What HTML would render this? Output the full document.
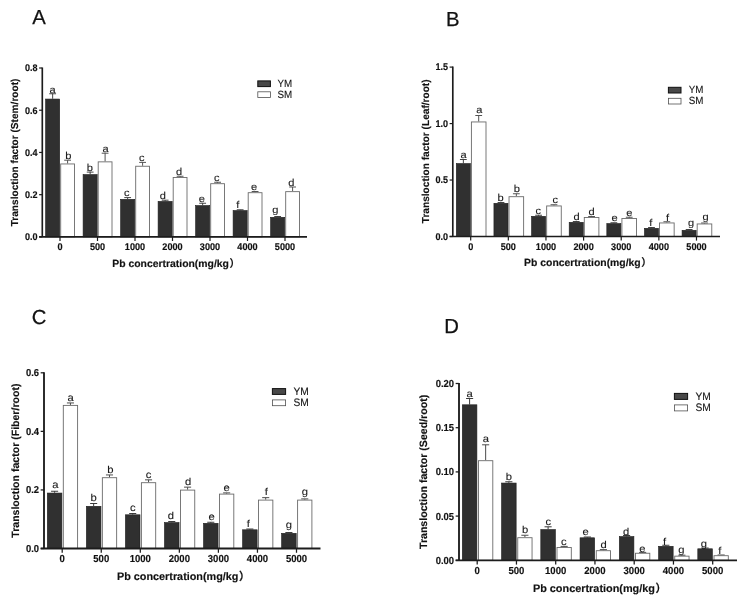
<!DOCTYPE html>
<html lang="en">
<head>
<meta charset="utf-8">
<title>Translocation factor</title>
<style>
html,body{margin:0;padding:0;background:#fff;}
body{width:745px;height:600px;overflow:hidden;}
svg{display:block;text-rendering:geometricPrecision;font-family:'Liberation Sans', 'Noto Sans CJK SC', sans-serif;}
</style>
</head>
<body>
<svg width="745" height="600" viewBox="0 0 745 600">
<rect width="745" height="600" fill="#fff"/>
<g id="chartA">
<text x="32.3" y="24.3" font-size="20.3" fill="#111" stroke="#111" stroke-width="0.25">A</text>
<path d="M52.65 98.75V93.75M49.25 93.75H56.05" stroke="#2f2f2f" stroke-width="0.9" fill="none"/>
<rect x="45.6" y="99.05" width="14.1" height="137.85" fill="#303030" stroke="#1e1e1e" stroke-width="0.6"/>
<text transform="translate(52.55 92.65) scale(1.12 1)" font-size="9.9" text-anchor="middle" fill="#1a1a1a" stroke="#1a1a1a" stroke-width="0.1">a</text>
<path d="M67.6 163.5V160.2M64.2 160.2H71" stroke="#4a4a4a" stroke-width="0.95" fill="none"/>
<rect x="60.7" y="163.95" width="13.8" height="72.95" fill="#fff" stroke="#6a6a6a" stroke-width="0.9"/>
<text transform="translate(68.3 159.1) scale(1.12 1)" font-size="9.9" text-anchor="middle" fill="#1a1a1a" stroke="#1a1a1a" stroke-width="0.1">b</text>
<path d="M60 236.9v4.1" stroke="#1c1c1c" stroke-width="1.2"/>
<text transform="translate(60 250.3) scale(1 1.06)" font-size="9.15" font-weight="bold" text-anchor="middle" fill="#111" stroke="#111" stroke-width="0.15">0</text>
<path d="M90.15 174.25V172.1M86.75 172.1H93.55" stroke="#2f2f2f" stroke-width="0.9" fill="none"/>
<rect x="83.1" y="174.55" width="14.1" height="62.35" fill="#303030" stroke="#1e1e1e" stroke-width="0.6"/>
<text transform="translate(89.95 170.9) scale(1.12 1)" font-size="9.9" text-anchor="middle" fill="#1a1a1a" stroke="#1a1a1a" stroke-width="0.1">b</text>
<path d="M105.1 161.4V153.2M101.7 153.2H108.5" stroke="#4a4a4a" stroke-width="0.95" fill="none"/>
<rect x="98.2" y="161.85" width="13.8" height="75.05" fill="#fff" stroke="#6a6a6a" stroke-width="0.9"/>
<text transform="translate(105.6 152.1) scale(1.12 1)" font-size="9.9" text-anchor="middle" fill="#1a1a1a" stroke="#1a1a1a" stroke-width="0.1">a</text>
<path d="M97.5 236.9v4.1" stroke="#1c1c1c" stroke-width="1.2"/>
<text transform="translate(97.5 250.3) scale(1 1.06)" font-size="9.15" font-weight="bold" text-anchor="middle" fill="#111" stroke="#111" stroke-width="0.15">500</text>
<path d="M127.65 199V197.6M124.25 197.6H131.05" stroke="#2f2f2f" stroke-width="0.9" fill="none"/>
<rect x="120.6" y="199.3" width="14.1" height="37.6" fill="#303030" stroke="#1e1e1e" stroke-width="0.6"/>
<text transform="translate(126.75 196.2) scale(1.12 1)" font-size="9.9" text-anchor="middle" fill="#1a1a1a" stroke="#1a1a1a" stroke-width="0.1">c</text>
<path d="M142.6 165.8V162.4M139.2 162.4H146" stroke="#4a4a4a" stroke-width="0.95" fill="none"/>
<rect x="135.7" y="166.25" width="13.8" height="70.65" fill="#fff" stroke="#6a6a6a" stroke-width="0.9"/>
<text transform="translate(141.7 161) scale(1.12 1)" font-size="9.9" text-anchor="middle" fill="#1a1a1a" stroke="#1a1a1a" stroke-width="0.1">c</text>
<path d="M135 236.9v4.1" stroke="#1c1c1c" stroke-width="1.2"/>
<text transform="translate(135 250.3) scale(1 1.06)" font-size="9.15" font-weight="bold" text-anchor="middle" fill="#111" stroke="#111" stroke-width="0.15">1000</text>
<path d="M165.15 201.1V200.2M161.75 200.2H168.55" stroke="#2f2f2f" stroke-width="0.9" fill="none"/>
<rect x="158.1" y="201.4" width="14.1" height="35.5" fill="#303030" stroke="#1e1e1e" stroke-width="0.6"/>
<text transform="translate(162.75 198.8) scale(1.12 1)" font-size="9.9" text-anchor="middle" fill="#1a1a1a" stroke="#1a1a1a" stroke-width="0.1">d</text>
<path d="M180.1 177V176.25M176.7 176.25H183.5" stroke="#4a4a4a" stroke-width="0.95" fill="none"/>
<rect x="173.2" y="177.45" width="13.8" height="59.45" fill="#fff" stroke="#6a6a6a" stroke-width="0.9"/>
<text transform="translate(179.2 174.85) scale(1.12 1)" font-size="9.9" text-anchor="middle" fill="#1a1a1a" stroke="#1a1a1a" stroke-width="0.1">d</text>
<path d="M172.5 236.9v4.1" stroke="#1c1c1c" stroke-width="1.2"/>
<text transform="translate(172.5 250.3) scale(1 1.06)" font-size="9.15" font-weight="bold" text-anchor="middle" fill="#111" stroke="#111" stroke-width="0.15">2000</text>
<path d="M202.65 205.25V203.25M199.25 203.25H206.05" stroke="#2f2f2f" stroke-width="0.9" fill="none"/>
<rect x="195.6" y="205.55" width="14.1" height="31.35" fill="#303030" stroke="#1e1e1e" stroke-width="0.6"/>
<text transform="translate(201.75 201.85) scale(1.12 1)" font-size="9.9" text-anchor="middle" fill="#1a1a1a" stroke="#1a1a1a" stroke-width="0.1">e</text>
<path d="M217.6 183.25V182.25M214.2 182.25H221" stroke="#4a4a4a" stroke-width="0.95" fill="none"/>
<rect x="210.7" y="183.7" width="13.8" height="53.2" fill="#fff" stroke="#6a6a6a" stroke-width="0.9"/>
<text transform="translate(216.7 180.85) scale(1.12 1)" font-size="9.9" text-anchor="middle" fill="#1a1a1a" stroke="#1a1a1a" stroke-width="0.1">c</text>
<path d="M210 236.9v4.1" stroke="#1c1c1c" stroke-width="1.2"/>
<text transform="translate(210 250.3) scale(1 1.06)" font-size="9.15" font-weight="bold" text-anchor="middle" fill="#111" stroke="#111" stroke-width="0.15">3000</text>
<path d="M240.15 210.25V209.75M236.75 209.75H243.55" stroke="#2f2f2f" stroke-width="0.9" fill="none"/>
<rect x="233.1" y="210.55" width="14.1" height="26.35" fill="#303030" stroke="#1e1e1e" stroke-width="0.6"/>
<text transform="translate(237.75 208.35) scale(1.12 1)" font-size="9.9" text-anchor="middle" fill="#1a1a1a" stroke="#1a1a1a" stroke-width="0.1">f</text>
<path d="M255.1 192.25V191.5M251.7 191.5H258.5" stroke="#4a4a4a" stroke-width="0.95" fill="none"/>
<rect x="248.2" y="192.7" width="13.8" height="44.2" fill="#fff" stroke="#6a6a6a" stroke-width="0.9"/>
<text transform="translate(254.2 190.1) scale(1.12 1)" font-size="9.9" text-anchor="middle" fill="#1a1a1a" stroke="#1a1a1a" stroke-width="0.1">e</text>
<path d="M247.5 236.9v4.1" stroke="#1c1c1c" stroke-width="1.2"/>
<text transform="translate(247.5 250.3) scale(1 1.06)" font-size="9.15" font-weight="bold" text-anchor="middle" fill="#111" stroke="#111" stroke-width="0.15">4000</text>
<path d="M277.65 217V216.5M274.25 216.5H281.05" stroke="#2f2f2f" stroke-width="0.9" fill="none"/>
<rect x="270.6" y="217.3" width="14.1" height="19.6" fill="#303030" stroke="#1e1e1e" stroke-width="0.6"/>
<text transform="translate(275.25 213.02) scale(1.12 1)" font-size="9.9" text-anchor="middle" fill="#1a1a1a" stroke="#1a1a1a" stroke-width="0.1">g</text>
<path d="M292.6 191.2V187M289.2 187H296" stroke="#4a4a4a" stroke-width="0.95" fill="none"/>
<rect x="285.7" y="191.65" width="13.8" height="45.25" fill="#fff" stroke="#6a6a6a" stroke-width="0.9"/>
<text transform="translate(291.4 185.6) scale(1.12 1)" font-size="9.9" text-anchor="middle" fill="#1a1a1a" stroke="#1a1a1a" stroke-width="0.1">d</text>
<path d="M285 236.9v4.1" stroke="#1c1c1c" stroke-width="1.2"/>
<text transform="translate(285 250.3) scale(1 1.06)" font-size="9.15" font-weight="bold" text-anchor="middle" fill="#111" stroke="#111" stroke-width="0.15">5000</text>
<path d="M42.3 67.4V237.5M39.1 236.9H307" stroke="#1c1c1c" stroke-width="1.65" fill="none"/>
<path d="M39.1 236.9H42.3" stroke="#1c1c1c" stroke-width="1.2"/>
<text transform="translate(37.6 240.2) scale(1 1.07)" font-size="9.05" font-weight="bold" text-anchor="end" fill="#111" stroke="#111" stroke-width="0.15">0.0</text>
<path d="M39.1 194.68H42.3" stroke="#1c1c1c" stroke-width="1.2"/>
<text transform="translate(37.6 197.98) scale(1 1.07)" font-size="9.05" font-weight="bold" text-anchor="end" fill="#111" stroke="#111" stroke-width="0.15">0.2</text>
<path d="M39.1 152.45H42.3" stroke="#1c1c1c" stroke-width="1.2"/>
<text transform="translate(37.6 155.75) scale(1 1.07)" font-size="9.05" font-weight="bold" text-anchor="end" fill="#111" stroke="#111" stroke-width="0.15">0.4</text>
<path d="M39.1 110.22H42.3" stroke="#1c1c1c" stroke-width="1.2"/>
<text transform="translate(37.6 113.52) scale(1 1.07)" font-size="9.05" font-weight="bold" text-anchor="end" fill="#111" stroke="#111" stroke-width="0.15">0.6</text>
<path d="M39.1 68H42.3" stroke="#1c1c1c" stroke-width="1.2"/>
<text transform="translate(37.6 71.3) scale(1 1.07)" font-size="9.05" font-weight="bold" text-anchor="end" fill="#111" stroke="#111" stroke-width="0.15">0.8</text>
<text transform="translate(18.3 152.45) rotate(-90)" font-size="10.12" font-weight="bold" text-anchor="middle" fill="#111" stroke="#111" stroke-width="0.15">Transloction factor (Stem/root)</text>
<text x="112.3" y="266.8" font-size="10.4" font-weight="bold" fill="#111" stroke="#111" stroke-width="0.15">Pb concertration(mg/kg<tspan dx="0.5">）</tspan></text>
<rect x="257.8" y="80.9" width="12.6" height="5.7" fill="#484848" stroke="#101010" stroke-width="1.0"/>
<rect x="257.8" y="91.8" width="12.6" height="5.7" fill="#fff" stroke="#505050" stroke-width="0.8"/>
<text transform="translate(277.5 87) scale(1 1.07)" font-size="9.8" text-rendering="geometricPrecision" fill="#161616" stroke="#161616" stroke-width="0.12">YM</text>
<text transform="translate(277.5 97.5) scale(1 1.07)" font-size="9.8" text-rendering="geometricPrecision" fill="#161616" stroke="#161616" stroke-width="0.12">SM</text>
</g>
<g id="chartB">
<text x="446" y="25.8" font-size="20.3" fill="#111" stroke="#111" stroke-width="0.25">B</text>
<path d="M463.35 163.25V159.5M459.95 159.5H466.75" stroke="#2f2f2f" stroke-width="0.9" fill="none"/>
<rect x="456.3" y="163.55" width="14.1" height="72.95" fill="#303030" stroke="#1e1e1e" stroke-width="0.6"/>
<text transform="translate(463.65 158.1) scale(1.12 1)" font-size="9.9" text-anchor="middle" fill="#1a1a1a" stroke="#1a1a1a" stroke-width="0.1">a</text>
<path d="M478.7 121.5V115.5M475.3 115.5H482.1" stroke="#4a4a4a" stroke-width="0.95" fill="none"/>
<rect x="471.4" y="121.95" width="14.6" height="114.55" fill="#fff" stroke="#6a6a6a" stroke-width="0.9"/>
<text transform="translate(479.4 113.1) scale(1.12 1)" font-size="9.9" text-anchor="middle" fill="#1a1a1a" stroke="#1a1a1a" stroke-width="0.1">a</text>
<path d="M470.7 236.5v4.1" stroke="#1c1c1c" stroke-width="1.2"/>
<text transform="translate(470.7 249.9) scale(1 1.06)" font-size="9.15" font-weight="bold" text-anchor="middle" fill="#111" stroke="#111" stroke-width="0.15">0</text>
<path d="M500.98 203V202.5M497.58 202.5H504.38" stroke="#2f2f2f" stroke-width="0.9" fill="none"/>
<rect x="493.93" y="203.3" width="14.1" height="33.2" fill="#303030" stroke="#1e1e1e" stroke-width="0.6"/>
<text transform="translate(500.58 201.1) scale(1.12 1)" font-size="9.9" text-anchor="middle" fill="#1a1a1a" stroke="#1a1a1a" stroke-width="0.1">b</text>
<path d="M516.33 196.25V193.75M512.93 193.75H519.73" stroke="#4a4a4a" stroke-width="0.95" fill="none"/>
<rect x="509.03" y="196.7" width="14.6" height="39.8" fill="#fff" stroke="#6a6a6a" stroke-width="0.9"/>
<text transform="translate(516.93 192.35) scale(1.12 1)" font-size="9.9" text-anchor="middle" fill="#1a1a1a" stroke="#1a1a1a" stroke-width="0.1">b</text>
<path d="M508.33 236.5v4.1" stroke="#1c1c1c" stroke-width="1.2"/>
<text transform="translate(508.33 249.9) scale(1 1.06)" font-size="9.15" font-weight="bold" text-anchor="middle" fill="#111" stroke="#111" stroke-width="0.15">500</text>
<path d="M538.61 216V215.25M535.21 215.25H542.01" stroke="#2f2f2f" stroke-width="0.9" fill="none"/>
<rect x="531.56" y="216.3" width="14.1" height="20.2" fill="#303030" stroke="#1e1e1e" stroke-width="0.6"/>
<text transform="translate(538.21 213.85) scale(1.12 1)" font-size="9.9" text-anchor="middle" fill="#1a1a1a" stroke="#1a1a1a" stroke-width="0.1">c</text>
<path d="M553.96 205.5V204.75M550.56 204.75H557.36" stroke="#4a4a4a" stroke-width="0.95" fill="none"/>
<rect x="546.66" y="205.95" width="14.6" height="30.55" fill="#fff" stroke="#6a6a6a" stroke-width="0.9"/>
<text transform="translate(555.26 203.35) scale(1.12 1)" font-size="9.9" text-anchor="middle" fill="#1a1a1a" stroke="#1a1a1a" stroke-width="0.1">c</text>
<path d="M545.96 236.5v4.1" stroke="#1c1c1c" stroke-width="1.2"/>
<text transform="translate(545.96 249.9) scale(1 1.06)" font-size="9.15" font-weight="bold" text-anchor="middle" fill="#111" stroke="#111" stroke-width="0.15">1000</text>
<path d="M576.24 222V221.5M572.84 221.5H579.64" stroke="#2f2f2f" stroke-width="0.9" fill="none"/>
<rect x="569.19" y="222.3" width="14.1" height="14.2" fill="#303030" stroke="#1e1e1e" stroke-width="0.6"/>
<text transform="translate(576.64 220.1) scale(1.12 1)" font-size="9.9" text-anchor="middle" fill="#1a1a1a" stroke="#1a1a1a" stroke-width="0.1">d</text>
<path d="M591.59 217V216.5M588.19 216.5H594.99" stroke="#4a4a4a" stroke-width="0.95" fill="none"/>
<rect x="584.29" y="217.45" width="14.6" height="19.05" fill="#fff" stroke="#6a6a6a" stroke-width="0.9"/>
<text transform="translate(591.59 215.1) scale(1.12 1)" font-size="9.9" text-anchor="middle" fill="#1a1a1a" stroke="#1a1a1a" stroke-width="0.1">d</text>
<path d="M583.59 236.5v4.1" stroke="#1c1c1c" stroke-width="1.2"/>
<text transform="translate(583.59 249.9) scale(1 1.06)" font-size="9.15" font-weight="bold" text-anchor="middle" fill="#111" stroke="#111" stroke-width="0.15">2000</text>
<path d="M613.87 223.25V222.75M610.47 222.75H617.27" stroke="#2f2f2f" stroke-width="0.9" fill="none"/>
<rect x="606.82" y="223.55" width="14.1" height="12.95" fill="#303030" stroke="#1e1e1e" stroke-width="0.6"/>
<text transform="translate(614.47 221.35) scale(1.12 1)" font-size="9.9" text-anchor="middle" fill="#1a1a1a" stroke="#1a1a1a" stroke-width="0.1">e</text>
<path d="M629.22 218V217.25M625.82 217.25H632.62" stroke="#4a4a4a" stroke-width="0.95" fill="none"/>
<rect x="621.92" y="218.45" width="14.6" height="18.05" fill="#fff" stroke="#6a6a6a" stroke-width="0.9"/>
<text transform="translate(629.32 215.85) scale(1.12 1)" font-size="9.9" text-anchor="middle" fill="#1a1a1a" stroke="#1a1a1a" stroke-width="0.1">e</text>
<path d="M621.22 236.5v4.1" stroke="#1c1c1c" stroke-width="1.2"/>
<text transform="translate(621.22 249.9) scale(1 1.06)" font-size="9.15" font-weight="bold" text-anchor="middle" fill="#111" stroke="#111" stroke-width="0.15">3000</text>
<path d="M651.5 228V227.5M648.1 227.5H654.9" stroke="#2f2f2f" stroke-width="0.9" fill="none"/>
<rect x="644.45" y="228.3" width="14.1" height="8.2" fill="#303030" stroke="#1e1e1e" stroke-width="0.6"/>
<text transform="translate(650.9 226.1) scale(1.12 1)" font-size="9.9" text-anchor="middle" fill="#1a1a1a" stroke="#1a1a1a" stroke-width="0.1">f</text>
<path d="M666.85 222.5V221.75M663.45 221.75H670.25" stroke="#4a4a4a" stroke-width="0.95" fill="none"/>
<rect x="659.55" y="222.95" width="14.6" height="13.55" fill="#fff" stroke="#6a6a6a" stroke-width="0.9"/>
<text transform="translate(667.45 221.15) scale(1.12 1)" font-size="9.9" text-anchor="middle" fill="#1a1a1a" stroke="#1a1a1a" stroke-width="0.1">f</text>
<path d="M658.85 236.5v4.1" stroke="#1c1c1c" stroke-width="1.2"/>
<text transform="translate(658.85 249.9) scale(1 1.06)" font-size="9.15" font-weight="bold" text-anchor="middle" fill="#111" stroke="#111" stroke-width="0.15">4000</text>
<path d="M689.13 230V229.5M685.73 229.5H692.53" stroke="#2f2f2f" stroke-width="0.9" fill="none"/>
<rect x="682.08" y="230.3" width="14.1" height="6.2" fill="#303030" stroke="#1e1e1e" stroke-width="0.6"/>
<text transform="translate(691.03 226.02) scale(1.12 1)" font-size="9.9" text-anchor="middle" fill="#1a1a1a" stroke="#1a1a1a" stroke-width="0.1">g</text>
<path d="M704.48 223.5V223M701.08 223H707.88" stroke="#4a4a4a" stroke-width="0.95" fill="none"/>
<rect x="697.18" y="223.95" width="14.6" height="12.55" fill="#fff" stroke="#6a6a6a" stroke-width="0.9"/>
<text transform="translate(705.58 219.82) scale(1.12 1)" font-size="9.9" text-anchor="middle" fill="#1a1a1a" stroke="#1a1a1a" stroke-width="0.1">g</text>
<path d="M696.48 236.5v4.1" stroke="#1c1c1c" stroke-width="1.2"/>
<text transform="translate(696.48 249.9) scale(1 1.06)" font-size="9.15" font-weight="bold" text-anchor="middle" fill="#111" stroke="#111" stroke-width="0.15">5000</text>
<path d="M452.8 66.5V237.1M449.6 236.5H720" stroke="#1c1c1c" stroke-width="1.65" fill="none"/>
<path d="M449.6 236.5H452.8" stroke="#1c1c1c" stroke-width="1.2"/>
<text transform="translate(448.1 239.8) scale(1 1.07)" font-size="9.05" font-weight="bold" text-anchor="end" fill="#111" stroke="#111" stroke-width="0.15">0.0</text>
<path d="M449.6 180.03H452.8" stroke="#1c1c1c" stroke-width="1.2"/>
<text transform="translate(448.1 183.33) scale(1 1.07)" font-size="9.05" font-weight="bold" text-anchor="end" fill="#111" stroke="#111" stroke-width="0.15">0.5</text>
<path d="M449.6 123.57H452.8" stroke="#1c1c1c" stroke-width="1.2"/>
<text transform="translate(448.1 126.87) scale(1 1.07)" font-size="9.05" font-weight="bold" text-anchor="end" fill="#111" stroke="#111" stroke-width="0.15">1.0</text>
<path d="M449.6 67.1H452.8" stroke="#1c1c1c" stroke-width="1.2"/>
<text transform="translate(448.1 70.4) scale(1 1.07)" font-size="9.05" font-weight="bold" text-anchor="end" fill="#111" stroke="#111" stroke-width="0.15">1.5</text>
<text transform="translate(428.8 151.3) rotate(-90)" font-size="10.12" font-weight="bold" text-anchor="middle" fill="#111" stroke="#111" stroke-width="0.15">Transloction factor (Leaf/root)</text>
<text x="524.1" y="266.4" font-size="10.4" font-weight="bold" fill="#111" stroke="#111" stroke-width="0.15">Pb concertration(mg/kg<tspan dx="0.5">）</tspan></text>
<rect x="668.4" y="87.3" width="12.6" height="5.7" fill="#484848" stroke="#101010" stroke-width="1.0"/>
<rect x="668.4" y="98.3" width="12.6" height="5.7" fill="#fff" stroke="#505050" stroke-width="0.8"/>
<text transform="translate(688.7 93.3) scale(1 1.07)" font-size="9.8" text-rendering="geometricPrecision" fill="#161616" stroke="#161616" stroke-width="0.12">YM</text>
<text transform="translate(688.7 103.9) scale(1 1.07)" font-size="9.8" text-rendering="geometricPrecision" fill="#161616" stroke="#161616" stroke-width="0.12">SM</text>
</g>
<g id="chartC">
<text x="31.8" y="324.3" font-size="20.3" fill="#111" stroke="#111" stroke-width="0.25">C</text>
<path d="M54.6 492.75V491.25M51.06 491.25H58.14" stroke="#2f2f2f" stroke-width="0.94" fill="none"/>
<rect x="47.3" y="493.05" width="14.6" height="55.45" fill="#303030" stroke="#1e1e1e" stroke-width="0.6"/>
<text transform="translate(55.4 488.49) scale(1.12 1)" font-size="10.05" text-anchor="middle" fill="#1a1a1a" stroke="#1a1a1a" stroke-width="0.1">a</text>
<path d="M70.45 404.95V402.95M66.91 402.95H73.99" stroke="#4a4a4a" stroke-width="0.99" fill="none"/>
<rect x="63.3" y="405.4" width="14.3" height="143.1" fill="#fff" stroke="#6a6a6a" stroke-width="0.9"/>
<text transform="translate(70.55 400.69) scale(1.12 1)" font-size="10.05" text-anchor="middle" fill="#1a1a1a" stroke="#1a1a1a" stroke-width="0.1">a</text>
<path d="M62.2 548.5v4.27" stroke="#1c1c1c" stroke-width="1.25"/>
<text transform="translate(62.2 562.46) scale(1 1.06)" font-size="9.53" font-weight="bold" text-anchor="middle" fill="#111" stroke="#111" stroke-width="0.15">0</text>
<path d="M93.65 506V503.5M90.11 503.5H97.19" stroke="#2f2f2f" stroke-width="0.94" fill="none"/>
<rect x="86.35" y="506.3" width="14.6" height="42.2" fill="#303030" stroke="#1e1e1e" stroke-width="0.6"/>
<text transform="translate(93.75 501.24) scale(1.12 1)" font-size="10.05" text-anchor="middle" fill="#1a1a1a" stroke="#1a1a1a" stroke-width="0.1">b</text>
<path d="M109.5 477.25V474.95M105.96 474.95H113.04" stroke="#4a4a4a" stroke-width="0.99" fill="none"/>
<rect x="102.35" y="477.7" width="14.3" height="70.8" fill="#fff" stroke="#6a6a6a" stroke-width="0.9"/>
<text transform="translate(110.3 472.69) scale(1.12 1)" font-size="10.05" text-anchor="middle" fill="#1a1a1a" stroke="#1a1a1a" stroke-width="0.1">b</text>
<path d="M101.25 548.5v4.27" stroke="#1c1c1c" stroke-width="1.25"/>
<text transform="translate(101.25 562.46) scale(1 1.06)" font-size="9.53" font-weight="bold" text-anchor="middle" fill="#111" stroke="#111" stroke-width="0.15">500</text>
<path d="M132.7 514.5V513.5M129.16 513.5H136.24" stroke="#2f2f2f" stroke-width="0.94" fill="none"/>
<rect x="125.4" y="514.8" width="14.6" height="33.7" fill="#303030" stroke="#1e1e1e" stroke-width="0.6"/>
<text transform="translate(132.8 511.24) scale(1.12 1)" font-size="10.05" text-anchor="middle" fill="#1a1a1a" stroke="#1a1a1a" stroke-width="0.1">c</text>
<path d="M148.55 482.25V479.85M145.01 479.85H152.09" stroke="#4a4a4a" stroke-width="0.99" fill="none"/>
<rect x="141.4" y="482.7" width="14.3" height="65.8" fill="#fff" stroke="#6a6a6a" stroke-width="0.9"/>
<text transform="translate(148.65 477.59) scale(1.12 1)" font-size="10.05" text-anchor="middle" fill="#1a1a1a" stroke="#1a1a1a" stroke-width="0.1">c</text>
<path d="M140.3 548.5v4.27" stroke="#1c1c1c" stroke-width="1.25"/>
<text transform="translate(140.3 562.46) scale(1 1.06)" font-size="9.53" font-weight="bold" text-anchor="middle" fill="#111" stroke="#111" stroke-width="0.15">1000</text>
<path d="M171.75 522.25V521.5M168.21 521.5H175.29" stroke="#2f2f2f" stroke-width="0.94" fill="none"/>
<rect x="164.45" y="522.55" width="14.6" height="25.95" fill="#303030" stroke="#1e1e1e" stroke-width="0.6"/>
<text transform="translate(170.85 519.24) scale(1.12 1)" font-size="10.05" text-anchor="middle" fill="#1a1a1a" stroke="#1a1a1a" stroke-width="0.1">d</text>
<path d="M187.6 489.65V487.15M184.06 487.15H191.14" stroke="#4a4a4a" stroke-width="0.99" fill="none"/>
<rect x="180.45" y="490.1" width="14.3" height="58.4" fill="#fff" stroke="#6a6a6a" stroke-width="0.9"/>
<text transform="translate(188.2 484.89) scale(1.12 1)" font-size="10.05" text-anchor="middle" fill="#1a1a1a" stroke="#1a1a1a" stroke-width="0.1">d</text>
<path d="M179.35 548.5v4.27" stroke="#1c1c1c" stroke-width="1.25"/>
<text transform="translate(179.35 562.46) scale(1 1.06)" font-size="9.53" font-weight="bold" text-anchor="middle" fill="#111" stroke="#111" stroke-width="0.15">2000</text>
<path d="M210.8 523V522.25M207.26 522.25H214.34" stroke="#2f2f2f" stroke-width="0.94" fill="none"/>
<rect x="203.5" y="523.3" width="14.6" height="25.2" fill="#303030" stroke="#1e1e1e" stroke-width="0.6"/>
<text transform="translate(211.6 519.99) scale(1.12 1)" font-size="10.05" text-anchor="middle" fill="#1a1a1a" stroke="#1a1a1a" stroke-width="0.1">e</text>
<path d="M226.65 493.65V492.9M223.11 492.9H230.19" stroke="#4a4a4a" stroke-width="0.99" fill="none"/>
<rect x="219.5" y="494.1" width="14.3" height="54.4" fill="#fff" stroke="#6a6a6a" stroke-width="0.9"/>
<text transform="translate(226.75 490.64) scale(1.12 1)" font-size="10.05" text-anchor="middle" fill="#1a1a1a" stroke="#1a1a1a" stroke-width="0.1">e</text>
<path d="M218.4 548.5v4.27" stroke="#1c1c1c" stroke-width="1.25"/>
<text transform="translate(218.4 562.46) scale(1 1.06)" font-size="9.53" font-weight="bold" text-anchor="middle" fill="#111" stroke="#111" stroke-width="0.15">3000</text>
<path d="M249.85 529.5V529M246.31 529H253.39" stroke="#2f2f2f" stroke-width="0.94" fill="none"/>
<rect x="242.55" y="529.8" width="14.6" height="18.7" fill="#303030" stroke="#1e1e1e" stroke-width="0.6"/>
<text transform="translate(248.25 526.74) scale(1.12 1)" font-size="10.05" text-anchor="middle" fill="#1a1a1a" stroke="#1a1a1a" stroke-width="0.1">f</text>
<path d="M265.7 499.65V497.65M262.16 497.65H269.24" stroke="#4a4a4a" stroke-width="0.99" fill="none"/>
<rect x="258.55" y="500.1" width="14.3" height="48.4" fill="#fff" stroke="#6a6a6a" stroke-width="0.9"/>
<text transform="translate(266.4 495.39) scale(1.12 1)" font-size="10.05" text-anchor="middle" fill="#1a1a1a" stroke="#1a1a1a" stroke-width="0.1">f</text>
<path d="M257.45 548.5v4.27" stroke="#1c1c1c" stroke-width="1.25"/>
<text transform="translate(257.45 562.46) scale(1 1.06)" font-size="9.53" font-weight="bold" text-anchor="middle" fill="#111" stroke="#111" stroke-width="0.15">4000</text>
<path d="M288.9 533V532.5M285.36 532.5H292.44" stroke="#2f2f2f" stroke-width="0.94" fill="none"/>
<rect x="281.6" y="533.3" width="14.6" height="15.2" fill="#303030" stroke="#1e1e1e" stroke-width="0.6"/>
<text transform="translate(289 528.13) scale(1.12 1)" font-size="10.05" text-anchor="middle" fill="#1a1a1a" stroke="#1a1a1a" stroke-width="0.1">g</text>
<path d="M304.75 499.65V498.9M301.21 498.9H308.29" stroke="#4a4a4a" stroke-width="0.99" fill="none"/>
<rect x="297.6" y="500.1" width="14.3" height="48.4" fill="#fff" stroke="#6a6a6a" stroke-width="0.9"/>
<text transform="translate(304.85 494.53) scale(1.12 1)" font-size="10.05" text-anchor="middle" fill="#1a1a1a" stroke="#1a1a1a" stroke-width="0.1">g</text>
<path d="M296.5 548.5v4.27" stroke="#1c1c1c" stroke-width="1.25"/>
<text transform="translate(296.5 562.46) scale(1 1.06)" font-size="9.53" font-weight="bold" text-anchor="middle" fill="#111" stroke="#111" stroke-width="0.15">5000</text>
<path d="M44 372.2V549.13M40.67 548.5H320.5" stroke="#1c1c1c" stroke-width="1.85" fill="none"/>
<path d="M40.67 548.5H44" stroke="#1c1c1c" stroke-width="1.25"/>
<text transform="translate(39.1 551.94) scale(1 1.07)" font-size="9.43" font-weight="bold" text-anchor="end" fill="#111" stroke="#111" stroke-width="0.15">0.0</text>
<path d="M40.67 489.93H44" stroke="#1c1c1c" stroke-width="1.25"/>
<text transform="translate(39.1 493.37) scale(1 1.07)" font-size="9.43" font-weight="bold" text-anchor="end" fill="#111" stroke="#111" stroke-width="0.15">0.2</text>
<path d="M40.67 431.37H44" stroke="#1c1c1c" stroke-width="1.25"/>
<text transform="translate(39.1 434.81) scale(1 1.07)" font-size="9.43" font-weight="bold" text-anchor="end" fill="#111" stroke="#111" stroke-width="0.15">0.4</text>
<path d="M40.67 372.8H44" stroke="#1c1c1c" stroke-width="1.25"/>
<text transform="translate(39.1 376.24) scale(1 1.07)" font-size="9.43" font-weight="bold" text-anchor="end" fill="#111" stroke="#111" stroke-width="0.15">0.6</text>
<text transform="translate(19.11 460.65) rotate(-90)" font-size="10.55" font-weight="bold" text-anchor="middle" fill="#111" stroke="#111" stroke-width="0.15">Transloction factor (Fiber/root)</text>
<text x="116.94" y="579.66" font-size="10.84" font-weight="bold" fill="#111" stroke="#111" stroke-width="0.15">Pb concertration(mg/kg<tspan dx="0.52">）</tspan></text>
<rect x="272.4" y="388.6" width="13.2" height="5.8" fill="#484848" stroke="#101010" stroke-width="1.0"/>
<rect x="272.4" y="399.9" width="13.2" height="5.8" fill="#fff" stroke="#505050" stroke-width="0.8"/>
<text transform="translate(293.5 394.5) scale(1 1.07)" font-size="10.21" text-rendering="geometricPrecision" fill="#161616" stroke="#161616" stroke-width="0.12">YM</text>
<text transform="translate(293.5 406) scale(1 1.07)" font-size="10.21" text-rendering="geometricPrecision" fill="#161616" stroke="#161616" stroke-width="0.12">SM</text>
</g>
<g id="chartD">
<text x="444.2" y="333.3" font-size="20.3" fill="#111" stroke="#111" stroke-width="0.25">D</text>
<path d="M469.6 404.5V398.5M466.04 398.5H473.16" stroke="#2f2f2f" stroke-width="0.94" fill="none"/>
<rect x="462.3" y="404.8" width="14.6" height="155.5" fill="#303030" stroke="#1e1e1e" stroke-width="0.6"/>
<text transform="translate(469.7 397.03) scale(1.12 1)" font-size="10" text-anchor="middle" fill="#1a1a1a" stroke="#1a1a1a" stroke-width="0.1">a</text>
<path d="M485.65 460.25V444.8M482.09 444.8H489.21" stroke="#4a4a4a" stroke-width="0.99" fill="none"/>
<rect x="478.5" y="460.7" width="14.3" height="99.6" fill="#fff" stroke="#6a6a6a" stroke-width="0.9"/>
<text transform="translate(485.75 441.53) scale(1.12 1)" font-size="10" text-anchor="middle" fill="#1a1a1a" stroke="#1a1a1a" stroke-width="0.1">a</text>
<path d="M477.2 560.3v4.29" stroke="#1c1c1c" stroke-width="1.26"/>
<text transform="translate(477.2 574.33) scale(1 1.06)" font-size="9.58" font-weight="bold" text-anchor="middle" fill="#111" stroke="#111" stroke-width="0.15">0</text>
<path d="M508.85 482.75V481.75M505.29 481.75H512.41" stroke="#2f2f2f" stroke-width="0.94" fill="none"/>
<rect x="501.55" y="483.05" width="14.6" height="77.25" fill="#303030" stroke="#1e1e1e" stroke-width="0.6"/>
<text transform="translate(508.95 479.98) scale(1.12 1)" font-size="10" text-anchor="middle" fill="#1a1a1a" stroke="#1a1a1a" stroke-width="0.1">b</text>
<path d="M524.9 537.25V535.25M521.34 535.25H528.46" stroke="#4a4a4a" stroke-width="0.99" fill="none"/>
<rect x="517.75" y="537.7" width="14.3" height="22.6" fill="#fff" stroke="#6a6a6a" stroke-width="0.9"/>
<text transform="translate(525 533.48) scale(1.12 1)" font-size="10" text-anchor="middle" fill="#1a1a1a" stroke="#1a1a1a" stroke-width="0.1">b</text>
<path d="M516.45 560.3v4.29" stroke="#1c1c1c" stroke-width="1.26"/>
<text transform="translate(516.45 574.33) scale(1 1.06)" font-size="9.58" font-weight="bold" text-anchor="middle" fill="#111" stroke="#111" stroke-width="0.15">500</text>
<path d="M548.1 529.25V526.8M544.54 526.8H551.66" stroke="#2f2f2f" stroke-width="0.94" fill="none"/>
<rect x="540.8" y="529.55" width="14.6" height="30.75" fill="#303030" stroke="#1e1e1e" stroke-width="0.6"/>
<text transform="translate(548.2 525.03) scale(1.12 1)" font-size="10" text-anchor="middle" fill="#1a1a1a" stroke="#1a1a1a" stroke-width="0.1">c</text>
<path d="M564.15 547V546.4M560.59 546.4H567.71" stroke="#4a4a4a" stroke-width="0.99" fill="none"/>
<rect x="557" y="547.45" width="14.3" height="12.85" fill="#fff" stroke="#6a6a6a" stroke-width="0.9"/>
<text transform="translate(563.85 545.43) scale(1.12 1)" font-size="10" text-anchor="middle" fill="#1a1a1a" stroke="#1a1a1a" stroke-width="0.1">c</text>
<path d="M555.7 560.3v4.29" stroke="#1c1c1c" stroke-width="1.26"/>
<text transform="translate(555.7 574.33) scale(1 1.06)" font-size="9.58" font-weight="bold" text-anchor="middle" fill="#111" stroke="#111" stroke-width="0.15">1000</text>
<path d="M587.35 537.5V537M583.79 537H590.91" stroke="#2f2f2f" stroke-width="0.94" fill="none"/>
<rect x="580.05" y="537.8" width="14.6" height="22.5" fill="#303030" stroke="#1e1e1e" stroke-width="0.6"/>
<text transform="translate(585.55 535.23) scale(1.12 1)" font-size="10" text-anchor="middle" fill="#1a1a1a" stroke="#1a1a1a" stroke-width="0.1">e</text>
<path d="M603.4 550.25V549.6M599.84 549.6H606.96" stroke="#4a4a4a" stroke-width="0.99" fill="none"/>
<rect x="596.25" y="550.7" width="14.3" height="9.6" fill="#fff" stroke="#6a6a6a" stroke-width="0.9"/>
<text transform="translate(603.5 548.23) scale(1.12 1)" font-size="10" text-anchor="middle" fill="#1a1a1a" stroke="#1a1a1a" stroke-width="0.1">d</text>
<path d="M594.95 560.3v4.29" stroke="#1c1c1c" stroke-width="1.26"/>
<text transform="translate(594.95 574.33) scale(1 1.06)" font-size="9.58" font-weight="bold" text-anchor="middle" fill="#111" stroke="#111" stroke-width="0.15">2000</text>
<path d="M626.6 536.25V535.5M623.04 535.5H630.16" stroke="#2f2f2f" stroke-width="0.94" fill="none"/>
<rect x="619.3" y="536.55" width="14.6" height="23.75" fill="#303030" stroke="#1e1e1e" stroke-width="0.6"/>
<text transform="translate(626.1 534.53) scale(1.12 1)" font-size="10" text-anchor="middle" fill="#1a1a1a" stroke="#1a1a1a" stroke-width="0.1">d</text>
<path d="M642.65 552.8V552.4M639.09 552.4H646.21" stroke="#4a4a4a" stroke-width="0.99" fill="none"/>
<rect x="635.5" y="553.25" width="14.3" height="7.05" fill="#fff" stroke="#6a6a6a" stroke-width="0.9"/>
<text transform="translate(642.25 551.83) scale(1.12 1)" font-size="10" text-anchor="middle" fill="#1a1a1a" stroke="#1a1a1a" stroke-width="0.1">e</text>
<path d="M634.2 560.3v4.29" stroke="#1c1c1c" stroke-width="1.26"/>
<text transform="translate(634.2 574.33) scale(1 1.06)" font-size="9.58" font-weight="bold" text-anchor="middle" fill="#111" stroke="#111" stroke-width="0.15">3000</text>
<path d="M665.85 546V545.25M662.29 545.25H669.41" stroke="#2f2f2f" stroke-width="0.94" fill="none"/>
<rect x="658.55" y="546.3" width="14.6" height="14" fill="#303030" stroke="#1e1e1e" stroke-width="0.6"/>
<text transform="translate(664.55 544.68) scale(1.12 1)" font-size="10" text-anchor="middle" fill="#1a1a1a" stroke="#1a1a1a" stroke-width="0.1">f</text>
<path d="M681.9 555.7V555.2M678.34 555.2H685.46" stroke="#4a4a4a" stroke-width="0.99" fill="none"/>
<rect x="674.75" y="556.15" width="14.3" height="4.15" fill="#fff" stroke="#6a6a6a" stroke-width="0.9"/>
<text transform="translate(681.4 553.33) scale(1.12 1)" font-size="10" text-anchor="middle" fill="#1a1a1a" stroke="#1a1a1a" stroke-width="0.1">g</text>
<path d="M673.45 560.3v4.29" stroke="#1c1c1c" stroke-width="1.26"/>
<text transform="translate(673.45 574.33) scale(1 1.06)" font-size="9.58" font-weight="bold" text-anchor="middle" fill="#111" stroke="#111" stroke-width="0.15">4000</text>
<path d="M705.1 548.5V548M701.54 548H708.66" stroke="#2f2f2f" stroke-width="0.94" fill="none"/>
<rect x="697.8" y="548.8" width="14.6" height="11.5" fill="#303030" stroke="#1e1e1e" stroke-width="0.6"/>
<text transform="translate(703.8 546.63) scale(1.12 1)" font-size="10" text-anchor="middle" fill="#1a1a1a" stroke="#1a1a1a" stroke-width="0.1">g</text>
<path d="M721.15 555.25V555M717.59 555H724.71" stroke="#4a4a4a" stroke-width="0.99" fill="none"/>
<rect x="714" y="555.7" width="14.3" height="4.6" fill="#fff" stroke="#6a6a6a" stroke-width="0.9"/>
<text transform="translate(719.85 554.43) scale(1.12 1)" font-size="10" text-anchor="middle" fill="#1a1a1a" stroke="#1a1a1a" stroke-width="0.1">f</text>
<path d="M712.7 560.3v4.29" stroke="#1c1c1c" stroke-width="1.26"/>
<text transform="translate(712.7 574.33) scale(1 1.06)" font-size="9.58" font-weight="bold" text-anchor="middle" fill="#111" stroke="#111" stroke-width="0.15">5000</text>
<path d="M459 382.9V560.93M455.65 560.3H737" stroke="#1c1c1c" stroke-width="1.85" fill="none"/>
<path d="M455.65 560.3H459" stroke="#1c1c1c" stroke-width="1.26"/>
<text transform="translate(454.08 563.76) scale(1 1.07)" font-size="9.48" font-weight="bold" text-anchor="end" fill="#111" stroke="#111" stroke-width="0.15">0.00</text>
<path d="M455.65 516.1H459" stroke="#1c1c1c" stroke-width="1.26"/>
<text transform="translate(454.08 519.56) scale(1 1.07)" font-size="9.48" font-weight="bold" text-anchor="end" fill="#111" stroke="#111" stroke-width="0.15">0.05</text>
<path d="M455.65 471.9H459" stroke="#1c1c1c" stroke-width="1.26"/>
<text transform="translate(454.08 475.36) scale(1 1.07)" font-size="9.48" font-weight="bold" text-anchor="end" fill="#111" stroke="#111" stroke-width="0.15">0.10</text>
<path d="M455.65 427.7H459" stroke="#1c1c1c" stroke-width="1.26"/>
<text transform="translate(454.08 431.16) scale(1 1.07)" font-size="9.48" font-weight="bold" text-anchor="end" fill="#111" stroke="#111" stroke-width="0.15">0.15</text>
<path d="M455.65 383.5H459" stroke="#1c1c1c" stroke-width="1.26"/>
<text transform="translate(454.08 386.96) scale(1 1.07)" font-size="9.48" font-weight="bold" text-anchor="end" fill="#111" stroke="#111" stroke-width="0.15">0.20</text>
<text transform="translate(427.49 471.9) rotate(-90)" font-size="10.6" font-weight="bold" text-anchor="middle" fill="#111" stroke="#111" stroke-width="0.15">Transloction factor (Seed/root)</text>
<text x="532.92" y="591.61" font-size="10.89" font-weight="bold" fill="#111" stroke="#111" stroke-width="0.15">Pb concertration(mg/kg<tspan dx="0.52">）</tspan></text>
<rect x="674.4" y="393.4" width="13.2" height="6" fill="#484848" stroke="#101010" stroke-width="1.0"/>
<rect x="674.4" y="404.9" width="13.2" height="6" fill="#fff" stroke="#505050" stroke-width="0.8"/>
<text transform="translate(695.5 399.8) scale(1 1.07)" font-size="10.26" text-rendering="geometricPrecision" fill="#161616" stroke="#161616" stroke-width="0.12">YM</text>
<text transform="translate(695.5 410.8) scale(1 1.07)" font-size="10.26" text-rendering="geometricPrecision" fill="#161616" stroke="#161616" stroke-width="0.12">SM</text>
</g>
</svg>
</body>
</html>
